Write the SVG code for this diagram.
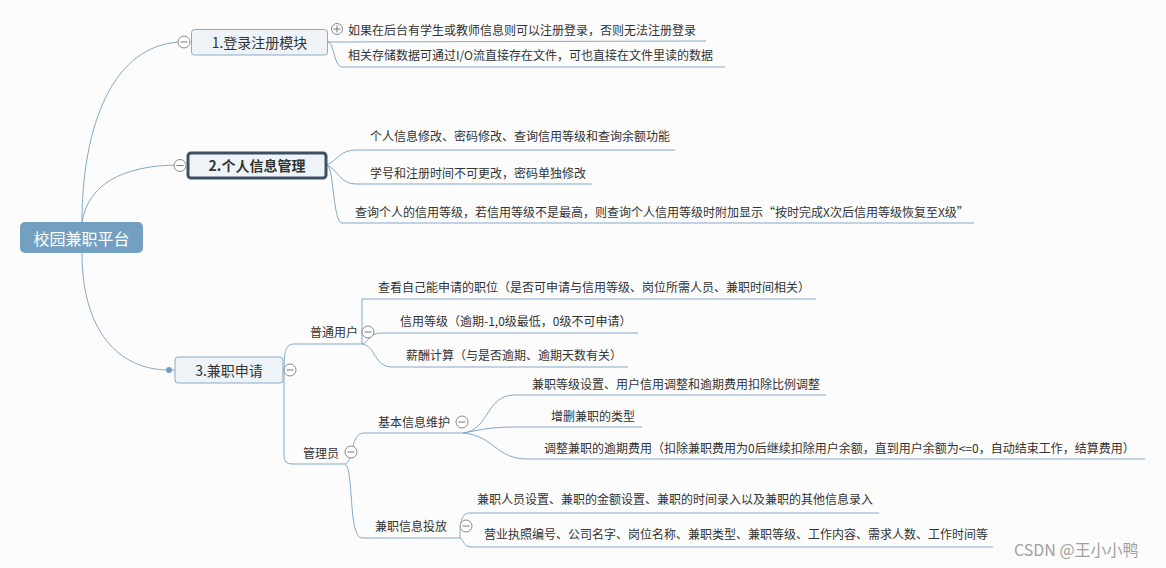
<svg xmlns="http://www.w3.org/2000/svg" width="1166" height="568" viewBox="0 0 1166 568">
<style>
text{font-family:"Noto Sans CJK SC","Liberation Sans",sans-serif;fill:#333;dominant-baseline:central}
.t{font-size:12px}
.n{font-size:14px;text-anchor:middle}
.ln{fill:none;stroke:#84a9c6;stroke-width:1}
.box{fill:#eef3f7;stroke:#8aabc6;stroke-width:1}
.cb circle{fill:#fff;stroke:#8a8a8a;stroke-width:1}
.cb path{stroke:#777;stroke-width:1;fill:none}
</style>
<rect width="1166" height="568" fill="#fcfcfc"/>
<g id="connectors" class="ln">
<path d="M82,222 C82,128 112,42 184,42"/>
<path d="M82,222 C88,186 120,165 180,165"/>
<path d="M82,253 C82,330 118,370 169,370 L175,370"/>
<path d="M328,42 L706,41"/>
<path d="M328,42 C334,42 334,67 342,67 L725,67"/>
<path d="M327,165 C338,160 340,150 356,150 L675,150"/>
<path d="M327,165 C338,170 340,184 356,184 L592,184"/>
<path d="M327,165 C334,168 333,223 342,223 L974,223"/>
<path d="M284,372 C284,350 286,344 294,344 L362,344"/>
<path d="M284,372 L284,456 Q284,464 292,464 L345,464"/>
<path d="M362,344 L362,299 L816,299"/>
<path d="M362,344 C370,342 368,333 382,333 L638,333"/>
<path d="M362,344 C376,346 374,367 392,367 L628,367"/>
<path d="M345,464 C354,462 350,433 364,433 L463,433"/>
<path d="M463,433 C490,430 485,395 515,395 L826,395"/>
<path d="M463,433 C480,430 490,427 515,427 L642,427"/>
<path d="M463,433 C495,436 495,459 528,459 L1145,459"/>
<path d="M345,464 C354,468 348,538 362,538 L460,538"/>
<path d="M460,538 C460,520 462,513 470,513 L879,513"/>
<path d="M460,538 C464,540 463,547 472,547 L993,547"/>
<circle cx="169" cy="370" r="3" fill="#73a0c2" stroke="none"/>
</g>
<g id="root">
<rect x="20" y="222" width="123" height="31" rx="5" fill="#73a0c0"/>
<text x="81.5" y="237.5" style="font-size:16px;fill:#fff;text-anchor:middle">校园兼职平台</text>
</g>
<g id="node1">
<rect class="box" x="191.5" y="29.5" width="136" height="25.5" rx="3"/>
<text class="n" x="259.5" y="42">1.登录注册模块</text>
<g class="cb"><circle cx="184" cy="42" r="6"/><path d="M180.5,42H187.5"/></g>
</g>
<g id="node1-1">
<g class="cb"><circle cx="337" cy="29" r="5.5"/><path d="M333.5,29H340.5M337,25.5V32.5"/></g>
<text class="t" x="348" y="29">如果在后台有学生或教师信息则可以注册登录，否则无法注册登录</text>
</g>
<g id="node1-2"><text class="t" x="348" y="54.5">相关存储数据可通过I/O流直接存在文件，可也直接在文件里读的数据</text></g>
<g id="node2">
<rect x="188" y="153" width="138" height="25" rx="3" fill="#eef3f7" stroke="#3c5064" stroke-width="3"/>
<text class="n" x="257" y="165" style="font-weight:bold">2.个人信息管理</text>
<g class="cb"><circle cx="180" cy="165.5" r="6"/><path d="M176.5,165.5H183.5"/></g>
</g>
<g id="node2-1"><text class="t" x="370" y="135">个人信息修改、密码修改、查询信用等级和查询余额功能</text></g>
<g id="node2-2"><text class="t" x="370" y="172">学号和注册时间不可更改，密码单独修改</text></g>
<g id="node2-3"><text class="t" x="355" y="211">查询个人的信用等级，若信用等级不是最高，则查询个人信用等级时附加显示“按时完成X次后信用等级恢复至X级”</text></g>
<g id="node3">
<rect class="box" x="175" y="357" width="108" height="26" rx="3"/>
<text class="n" x="229" y="369.5">3.兼职申请</text>
<g class="cb"><circle cx="290" cy="370" r="6"/><path d="M286.5,370H293.5"/></g>
</g>
<g id="node3-1">
<text class="t" x="310" y="331">普通用户</text>
<g class="cb"><circle cx="368" cy="332" r="6"/><path d="M364.5,332H371.5"/></g>
</g>
<g id="node3-1-1"><text class="t" x="378" y="286">查看自己能申请的职位（是否可申请与信用等级、岗位所需人员、兼职时间相关）</text></g>
<g id="node3-1-2"><text class="t" x="400" y="320">信用等级（逾期-1,0级最低，0级不可申请）</text></g>
<g id="node3-1-3"><text class="t" x="406" y="354">薪酬计算（与是否逾期、逾期天数有关）</text></g>
<g id="node3-2">
<text class="t" x="303" y="452">管理员</text>
<g class="cb"><circle cx="351" cy="452" r="6"/><path d="M347.5,452H354.5"/></g>
</g>
<g id="node3-2-1">
<text class="t" x="378" y="421">基本信息维护</text>
<g class="cb"><circle cx="462" cy="422" r="6"/><path d="M458.5,422H465.5"/></g>
</g>
<g id="node3-2-1-1"><text class="t" x="532" y="383">兼职等级设置、用户信用调整和逾期费用扣除比例调整</text></g>
<g id="node3-2-1-2"><text class="t" x="551" y="415">增删兼职的类型</text></g>
<g id="node3-2-1-3"><text class="t" x="544" y="447">调整兼职的逾期费用（扣除兼职费用为0后继续扣除用户余额，直到用户余额为&lt;=0，自动结束工作，结算费用）</text></g>
<g id="node3-2-2">
<text class="t" x="375" y="525">兼职信息投放</text>
<g class="cb"><circle cx="466" cy="526" r="6"/><path d="M462.5,526H469.5"/></g>
</g>
<g id="node3-2-2-1"><text class="t" x="477" y="498">兼职人员设置、兼职的金额设置、兼职的时间录入以及兼职的其他信息录入</text></g>
<g id="node3-2-2-2"><text class="t" x="484" y="533">营业执照编号、公司名字、岗位名称、兼职类型、兼职等级、工作内容、需求人数、工作时间等</text></g>
<text x="1014" y="549" style="font-size:16px;fill:#a0a0a0">CSDN @王小小鸭</text>
</svg>
